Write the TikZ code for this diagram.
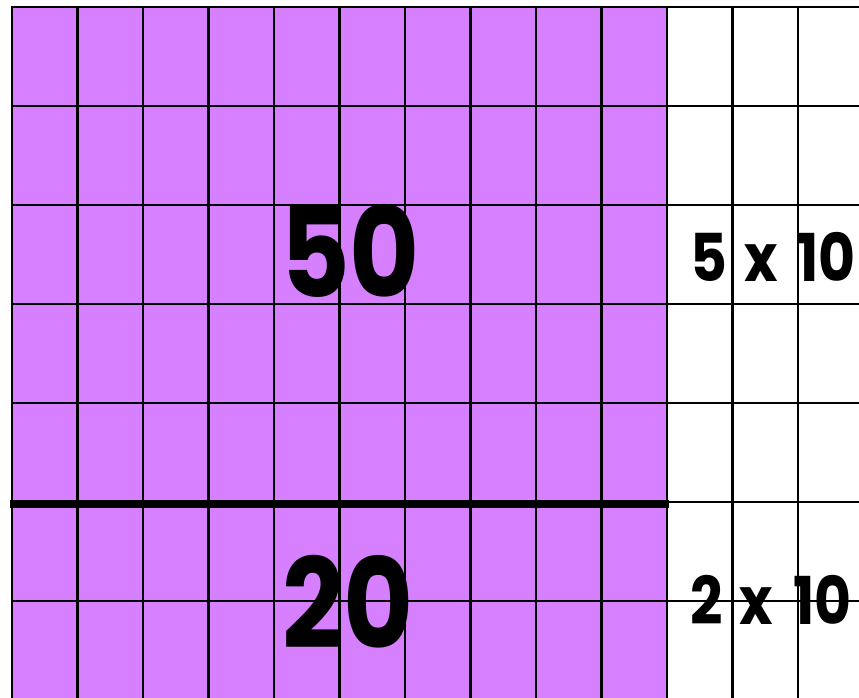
\documentclass[tikz,border=0pt]{standalone}
\usepackage{fontspec}
\setmainfont{Poppins}
\newfontfamily\numfont[FakeStretch=0.86]{Poppins}
\usepackage{xcolor}
\usepackage{tikz}
\definecolor{mypurple}{RGB}{214,128,255}
\definecolor{mydark}{RGB}{0,0,0}
\newcommand{\timesten}[1]{#1\hspace{5pt} x\hspace{8pt} 10}
\tikzset{
  gridline/.style={line width=2.4pt, color=mydark},
  splitline/.style={line width=7.5pt, color=mydark},
  bignum/.style={inner sep=0pt, font=\numfont\fontsize{125}{125}\selectfont\bfseries},
  product/.style={inner sep=0pt, font=\numfont\fontsize{66}{66}\selectfont\bfseries}
}

\begin{document}
\begin{tikzpicture}[x=1pt, y=-1pt]
  \useasboundingbox (0,0) rectangle (859,698);
  \fill[mypurple] (12,7) rectangle (667,698);

  \foreach \i in {0,...,12}
    \draw[gridline] ({12+65.5*\i},7) -- ({12+65.5*\i},698);
  \foreach \j in {0,...,6}
    \draw[gridline] (11,{7+99*\j}) -- (859,{7+99*\j});
  \draw[splitline] (10,504) -- (669,504);

  \node[bignum] (fifty) at (350,251) {50};
  \node[bignum] (twenty) at (348,602) {20};
  \node[product] (fivetens) at (773,257) {\timesten{5}};
  \node[product] (twotens) at (771,600) {\timesten{2}};
\end{tikzpicture}
\end{document}
